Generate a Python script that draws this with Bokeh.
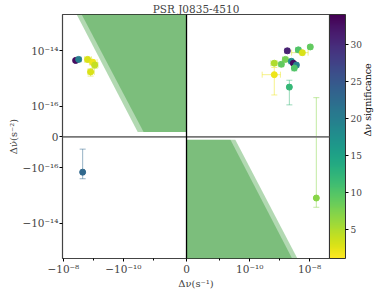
import numpy as np
from bokeh.plotting import figure
from bokeh.models import (Range1d, FixedTicker, ColorBar, LinearColorMapper, Span,
                          LinearAxis, ColumnDataSource)
from bokeh.palettes import Viridis256
from bokeh.transform import linear_cmap
from bokeh.embed import file_html
from bokeh.resources import INLINE

# ---------------- data ----------------
title_text = "PSR J0835-4510"
x_label = "Δν(s⁻¹)"
y_label = "Δν̇(s⁻²)"
cbar_label = "Δν significance"

dnu = [-3.9e-9, -3.1e-9, -1.55e-9, -1.05e-9, -9.0e-10, -1.23e-9,
       1.8e-9, 4.2e-9, 5.7e-9, 1.05e-8, 6.6e-10, 1.14e-9, 1.55e-9,
       2.45e-9, 2.86e-9, 3.6e-9, 3.08e-9, 6.6e-10, 2.1e-9, 1.67e-8, -2.27e-9]
dnudot = [4.4e-15, 4.8e-15, 4.8e-15, 3.8e-15, 3.0e-15, 1.7e-15,
          9.8e-15, 1.06e-14, 8.4e-15, 1.35e-14, 3.5e-15, 3.2e-15, 4.8e-15,
          4.1e-15, 3.5e-15, 3.0e-15, 2.35e-15, 1.35e-15, 4.8e-16, -1.25e-15, -1.46e-16]
dnu_err = [4e-10, 5e-10, 4e-10, 3e-10, 2e-10, 3e-10,
           3e-10, 8e-10, 3.2e-9, 1.5e-9, 1.5e-10, 2e-10, 3e-10,
           4e-10, 3e-10, 5e-10, 5e-10, 4e-10, 3e-10, 2e-9, 3e-10]
dnudot_err = [6e-16, 7e-16, 1.0e-15, 8e-16, 7e-16, 5e-16,
              1.5e-15, 1.5e-15, 1.5e-15, 2e-15, 6e-16, 5e-16, 8e-16,
              6e-16, 5e-16, 5e-16, 5e-16, 1.1e-15, 3.7e-16, 1.45e-15, 1.06e-16]
significance = [33, 20, 3, 2, 4, 3,
                31, 10, 3, 9, 5, 9, 8,
                18, 33, 20, 10, 2, 12, 7, 23]

x_ticks = [-1e-8, -1e-10, 0, 1e-10, 1e-8]
x_tick_labels = ["−10⁻⁸", "−10⁻¹⁰", "0", "10⁻¹⁰", "10⁻⁸"]
x_minor = [-1e-9, -1e-11, 1e-11, 1e-9]
y_ticks = [1e-14, 1e-16, 0, -1e-16, -1e-14]
y_tick_labels = ["10⁻¹⁴", "10⁻¹⁶", "0", "−10⁻¹⁶", "−10⁻¹⁴"]
cbar_ticks = [5, 10, 15, 20, 25, 30]
sig_low, sig_high = 1.1, 34.1
x_lim = (-1.07e-8, 4.6e-8)
y_lim = (-1.9e-13, 2.0e-13)
x_linthresh = 1e-11
y_linthresh = 1e-16

# detection-limit regions (data coordinates)
tl_outer_x = [-3.6e-9, 0, 0, -3.3e-11]
tl_inner_x = [-2.45e-9, 0, 0, -2.1e-11]
tl_y = [2.0e-13, 2.0e-13, 1.55e-17, 1.55e-17]
br_outer_x = [0, 3.3e-11, 3.9e-9, 0]
br_inner_x = [0, 2.27e-11, 2.6e-9, 0]
br_y = [-9.3e-18, -9.3e-18, -1.9e-13, -1.9e-13]


def symlog(v, lt):
    v = np.asarray(v, dtype=float)
    a = np.abs(v)
    c = 1.0 / (1.0 - 1.0 / 10.0)
    out = np.where(a <= lt, a / lt * c, c + np.log10(np.maximum(a, lt) / lt))
    return np.sign(v) * out


def sx(v):
    return symlog(v, x_linthresh)


def sy(v):
    return symlog(v, y_linthresh)


dnu_a = np.array(dnu)
dnudot_a = np.array(dnudot)
xe = np.array(dnu_err)
ye = np.array(dnudot_err)

src = ColumnDataSource(dict(
    dnu=dnu, dnudot=dnudot, sig=significance,
    x=sx(dnu_a), y=sy(dnudot_a),
    xl=sx(dnu_a - xe), xh=sx(dnu_a + xe),
    yl=sy(dnudot_a - ye), yh=sy(dnudot_a + ye),
))

palette = list(Viridis256)[::-1]
mapper = LinearColorMapper(palette=palette, low=sig_low, high=sig_high)
cmap = linear_cmap("sig", palette, sig_low, sig_high)

SERIF = "DejaVu Serif"

x0, x1 = float(sx(x_lim[0])), float(sx(x_lim[1]))
y0, y1 = float(sy(y_lim[0])), float(sy(y_lim[1]))

p = figure(width=382, height=291, output_backend="svg", toolbar_location=None,
           x_range=Range1d(x0, x1), y_range=Range1d(y0, y1),
           min_border_left=62, min_border_right=53, min_border_top=0,
           min_border_bottom=26)
p.grid.visible = False
p.outline_line_color = "#444444"
p.outline_line_width = 1.2

p.title.text = title_text
p.title.align = "center"
p.title.text_font = SERIF
p.title.text_font_size = "10.5px"
p.title.text_font_style = "normal"
if "standoff" in p.title.properties():
    p.title.standoff = 0
p.title.offset = 0

# regions
for xs_, ys_ in [(tl_outer_x, tl_y), (tl_inner_x, tl_y), (br_outer_x, br_y), (br_inner_x, br_y)]:
    p.patch(sx(xs_), sy(ys_), fill_color="green", fill_alpha=0.3, line_color=None)

p.add_layout(Span(location=0, dimension="width", line_color="#777777", line_width=1.8))
p.add_layout(Span(location=0, dimension="height", line_color="black", line_width=1.3))

# error bars
p.segment(x0="xl", x1="xh", y0="y", y1="y", source=src, line_color=cmap,
          line_alpha=0.5, line_width=1)
p.segment(x0="x", x1="x", y0="yl", y1="yh", source=src, line_color=cmap,
          line_alpha=0.5, line_width=1)
for cx, cy, ang in [("xl", "y", np.pi / 2), ("xh", "y", np.pi / 2), ("x", "yl", 0), ("x", "yh", 0)]:
    p.scatter(x=cx, y=cy, source=src, marker="dash", size=6, angle=ang,
              line_color=cmap, line_alpha=0.5, line_width=1)

p.scatter(x="x", y="y", source=src, marker="circle", size=6,
          fill_color=cmap, line_color=cmap)

# axes
xa = p.xaxis[0]
xa.ticker = FixedTicker(ticks=list(map(float, sx(x_ticks))),
                        minor_ticks=list(map(float, sx(x_minor))))
xa.major_label_overrides = {float(t): l for t, l in zip(sx(x_ticks), x_tick_labels)}
xa.axis_label = x_label
ya = p.yaxis[0]
ya.ticker = FixedTicker(ticks=list(map(float, sy(y_ticks))))
ya.major_label_overrides = {float(t): l for t, l in zip(sy(y_ticks), y_tick_labels)}
ya.axis_label = y_label
for ax in (xa, ya):
    ax.axis_line_color = None
    ax.major_tick_in = 0
    ax.major_tick_out = 3
    ax.minor_tick_in = 0
    ax.minor_tick_out = 2
    ax.major_label_text_font = SERIF
    ax.major_label_text_font_size = "10.5px"
    ax.axis_label_text_font = SERIF
    ax.axis_label_text_font_size = "10px"
    ax.axis_label_text_font_style = "normal"
    ax.major_label_standoff = 1
    ax.axis_label_standoff = 0

cb = ColorBar(color_mapper=mapper, ticker=FixedTicker(ticks=cbar_ticks),
              width=16, padding=0, margin=3, major_tick_in=0, major_tick_out=3,
              major_tick_line_color="black", bar_line_color="#333333",
              label_standoff=2,
              major_label_text_font=SERIF, major_label_text_font_size="9px",
              background_fill_color=None, border_line_color=None)
p.add_layout(cb, "right")

# colour-bar label: a bare right axis whose single tick label is the text
yc = (y0 + y1) / 2
lab_axis = LinearAxis(ticker=FixedTicker(ticks=[yc]),
                      major_label_overrides={yc: cbar_label},
                      major_label_orientation=np.pi / 2,
                      axis_line_color=None, major_tick_line_color=None,
                      minor_tick_line_color=None, major_tick_out=0, major_tick_in=0,
                      major_label_standoff=3, major_label_text_font=SERIF,
                      major_label_text_font_size="9.5px",
                      major_label_text_color="black")
p.add_layout(lab_axis, "right")

open("out.html", "w").write(file_html(p, INLINE))
